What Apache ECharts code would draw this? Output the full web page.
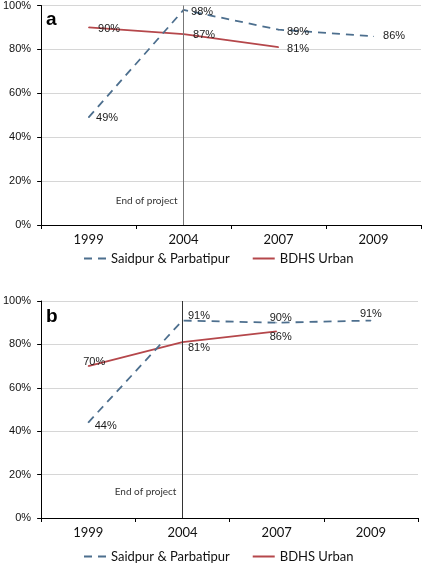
<!DOCTYPE html>
<html><head><meta charset="utf-8">
<script src="https://cdn.jsdelivr.net/npm/echarts@6/dist/echarts.min.js"></script>
<style>html,body{margin:0;padding:0;background:#fff}#c{width:425px;height:565px}</style>
</head><body><div id="c"></div>
<script>
const categories = ['1999', '2004', '2007', '2009'];
const yTicks = [0, 20, 40, 60, 80, 100];
const seriesNames = ['Saidpur & Parbatipur', 'BDHS Urban'];
// Panel a
const aSaidpur = [49, 98, 89, 86];
const aBdhs = [90, 87, 81, null];
// Panel b
const bSaidpur = [44, 91, 90, 91];
const bBdhs = [70, 81, 86, null];
const panelLetters = ['a', 'b'];
const noteText = 'End of project';
const noteLevel = [11, 12];

// label styling (positions/offsets)
const aSaidLab = [['right',[2,1]],['right',[2,2]],['right',[3,2]],['right',[4,0]]];
const aBdhsLab = [['right',[4,2]],['right',[4,1]],['right',[3,2]]];
const bSaidLab = [['right',[1,3]],['right',[0,-5]],['top',[4,6]],['top',[0,4]]];
const bBdhsLab = [['top',[6,7]],['right',[0,6]],['bottom',[4,-5]]];

const BLUE = '#4d6f8e', RED = '#b5474b';
const numFont = 'Liberation Sans', txtFont = 'Lato';

function mkData(vals, labs) {
  return vals.map((v, i) => v == null ? null : ({
    value: v,
    label: { position: labs[i][0], offset: labs[i][1] }
  }));
}

const grids = [
  { left: 38, top: 5, right: 4, height: 220 },
  { left: 38, top: 301, right: 7, height: 217 }
];
const xAxes = grids.map((g, i) => ({
  type: 'category', gridIndex: i, data: categories, boundaryGap: true,
  axisLine: { lineStyle: { color: '#000', width: 1 } },
  axisTick: { show: true, length: 4, inside: false, lineStyle: { color: '#000' } },
  axisLabel: { color: '#111', fontFamily: txtFont, fontSize: 13, margin: 8 }
}));
const yAxes = grids.map((g, i) => ({
  type: 'value', gridIndex: i, min: 0, max: 100, interval: 20,
  axisLine: { show: true, lineStyle: { color: '#000', width: 1 } },
  axisTick: { show: true, length: 4, lineStyle: { color: '#000' } },
  splitLine: { lineStyle: { color: '#d6d6d6', width: 1 } },
  axisLabel: { color: '#111', fontFamily: numFont, fontSize: 11, margin: 10,
    formatter: v => yTicks.includes(v) ? v + '%' : '' }
}));

const labelBase = { show: true, color: '#1a1a1a', fontFamily: numFont, fontSize: 11, distance: 5, formatter: p => p.value + '%' };

function saidSeries(idx, vals, labs) {
  return {
    name: seriesNames[0], type: 'line', xAxisIndex: idx, yAxisIndex: idx,
    data: mkData(vals, labs), symbol: 'circle', symbolSize: 1, showSymbol: true, z: 3,
    lineStyle: { color: BLUE, width: 1.8, type: [8, 6] }, itemStyle: { color: BLUE },
    label: labelBase,
    markLine: { silent: true, symbol: 'none', animation: false,
      lineStyle: { color: idx === 0 ? '#777' : '#333', width: 1, type: 'solid' },
      label: { show: false }, data: [{ xAxis: categories[1] }] },
    markPoint: { silent: true, animation: false, symbol: 'circle', symbolSize: 0,
      label: { show: true, position: 'left', distance: 6, color: '#333', fontFamily: txtFont, fontSize: 10, formatter: noteText },
      data: [{ coord: [categories[1], noteLevel[idx]] }] }
  };
}
function bdhsSeries(idx, vals, labs) {
  return {
    name: seriesNames[1], type: 'line', xAxisIndex: idx, yAxisIndex: idx,
    data: mkData(vals, labs), symbol: 'circle', symbolSize: 1, showSymbol: true, z: 2,
    lineStyle: { color: RED, width: 1.8 }, itemStyle: { color: RED },
    label: labelBase
  };
}

const legendBase = {
  data: seriesNames, left: 78, itemWidth: 22, itemHeight: 10, itemGap: 22,
  itemStyle: { opacity: 0 },
  textStyle: { color: '#111', fontFamily: txtFont, fontSize: 13 }
};

const chart = echarts.init(document.getElementById('c'));
chart.setOption({
  animation: false,
  title: panelLetters.map((t, i) => ({ text: t, left: 41, top: i === 0 ? 5 : 302,
    textStyle: { fontFamily: numFont, fontWeight: 'bold', fontSize: 19, color: '#000' } })),
  grid: grids,
  xAxis: xAxes,
  yAxis: yAxes,
  legend: [
    Object.assign({}, legendBase, { top: 247 }),
    Object.assign({}, legendBase, { top: 545 })
  ],
  series: [
    saidSeries(0, aSaidpur, aSaidLab),
    bdhsSeries(0, aBdhs, aBdhsLab),
    saidSeries(1, bSaidpur, bSaidLab),
    bdhsSeries(1, bBdhs, bBdhsLab)
  ]
});
</script></body></html>
